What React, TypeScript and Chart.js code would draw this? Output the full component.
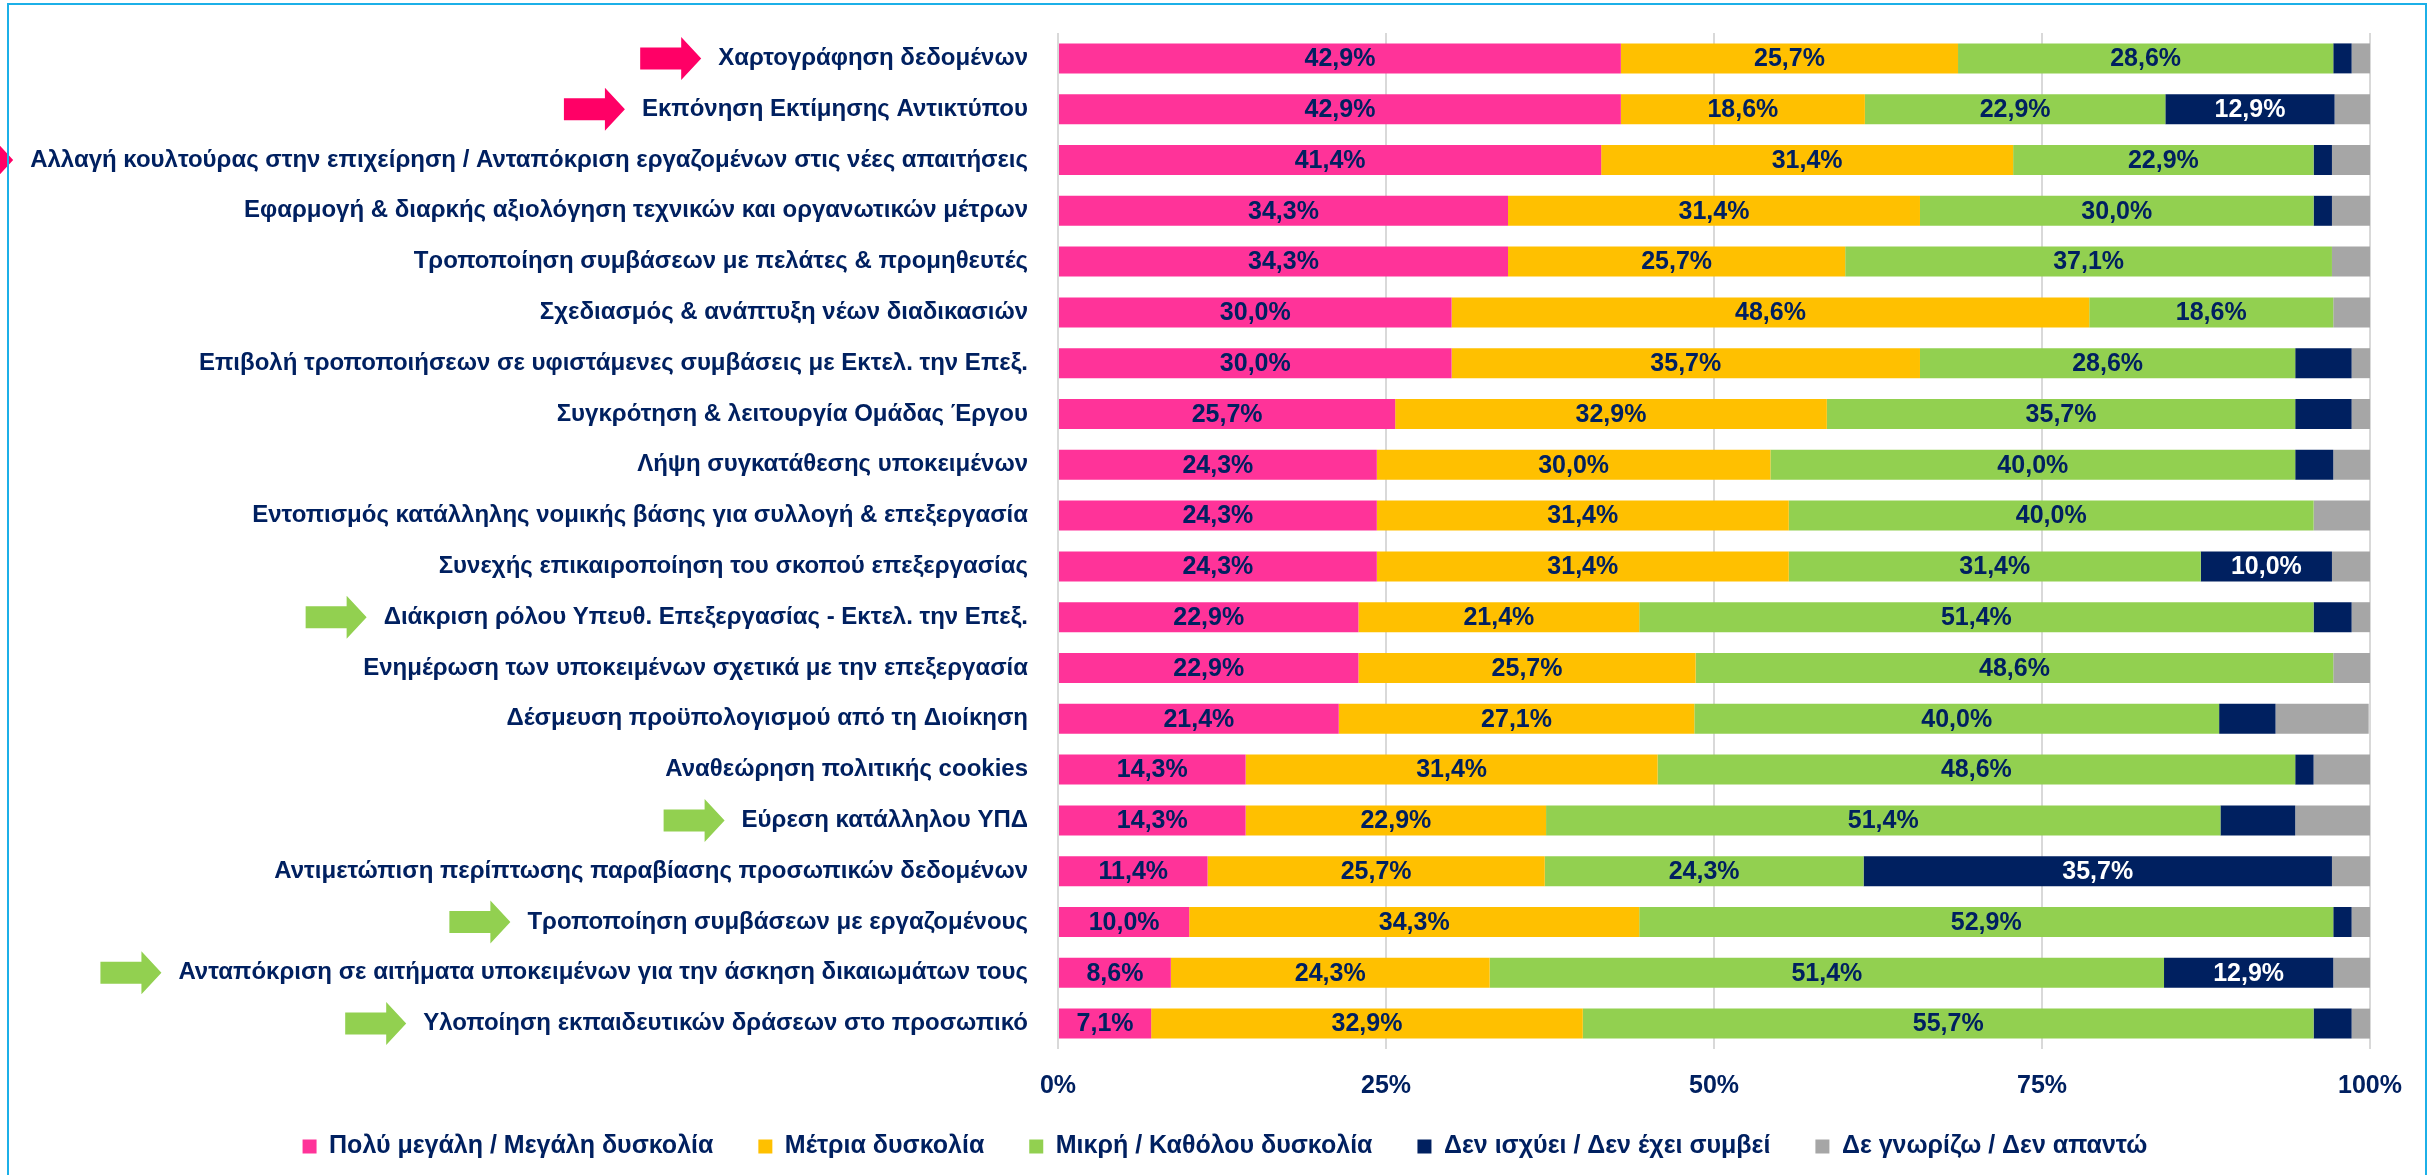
import { useEffect, useRef } from 'react';
import { Chart, registerables } from 'chart.js';

Chart.register(...registerables);

const categories = [
  'Χαρτογράφηση δεδομένων',
  'Εκπόνηση Εκτίμησης Αντικτύπου',
  'Αλλαγή κουλτούρας στην επιχείρηση / Ανταπόκριση εργαζομένων στις νέες απαιτήσεις',
  'Εφαρμογή & διαρκής αξιολόγηση τεχνικών και οργανωτικών μέτρων',
  'Τροποποίηση συμβάσεων με πελάτες & προμηθευτές',
  'Σχεδιασμός & ανάπτυξη νέων διαδικασιών',
  'Επιβολή τροποποιήσεων σε υφιστάμενες συμβάσεις με Εκτελ. την Επεξ.',
  'Συγκρότηση & λειτουργία Ομάδας Έργου',
  'Λήψη συγκατάθεσης υποκειμένων',
  'Εντοπισμός κατάλληλης νομικής βάσης για συλλογή & επεξεργασία',
  'Συνεχής επικαιροποίηση του σκοπού επεξεργασίας',
  'Διάκριση ρόλου Υπευθ. Επεξεργασίας - Εκτελ. την Επεξ.',
  'Ενημέρωση των υποκειμένων σχετικά με την επεξεργασία',
  'Δέσμευση προϋπολογισμού από τη Διοίκηση',
  'Αναθεώρηση πολιτικής cookies',
  'Εύρεση κατάλληλου ΥΠΔ',
  'Αντιμετώπιση περίπτωσης παραβίασης προσωπικών δεδομένων',
  'Τροποποίηση συμβάσεων με εργαζομένους',
  'Ανταπόκριση σε αιτήματα υποκειμένων για την άσκηση δικαιωμάτων τους',
  'Υλοποίηση εκπαιδευτικών δράσεων στο προσωπικό',
];

const seriesNames = [
  'Πολύ μεγάλη / Μεγάλη δυσκολία',
  'Μέτρια δυσκολία',
  'Μικρή / Καθόλου δυσκολία',
  'Δεν ισχύει / Δεν έχει συμβεί',
  'Δε γνωρίζω / Δεν απαντώ',
];

const veryHigh = [42.9, 42.9, 41.4, 34.3, 34.3, 30.0, 30.0, 25.7, 24.3, 24.3, 24.3, 22.9, 22.9, 21.4, 14.3, 14.3, 11.4, 10.0, 8.6, 7.1];
const moderate = [25.7, 18.6, 31.4, 31.4, 25.7, 48.6, 35.7, 32.9, 30.0, 31.4, 31.4, 21.4, 25.7, 27.1, 31.4, 22.9, 25.7, 34.3, 24.3, 32.9];
const low = [28.6, 22.9, 22.9, 30.0, 37.1, 18.6, 28.6, 35.7, 40.0, 40.0, 31.4, 51.4, 48.6, 40.0, 48.6, 51.4, 24.3, 52.9, 51.4, 55.7];
const notApplicable = [1.4, 12.9, 1.4, 1.4, 0, 0, 4.3, 4.3, 2.9, 0, 10.0, 2.9, 0, 4.3, 1.4, 5.7, 35.7, 1.4, 12.9, 2.9];
const dontKnow = [1.4, 2.9, 2.9, 2.9, 2.9, 2.9, 1.4, 1.4, 2.9, 4.3, 2.9, 1.4, 2.9, 7.1, 4.3, 5.7, 2.9, 1.4, 2.9, 1.4];

const xTickValues = [0, 25, 50, 75, 100];

const pinkArrowRows = [0, 1, 2];
const greenArrowRows = [11, 15, 17, 18, 19];

const COLORS = ['#FF3399', '#FFC000', '#92D050', '#002060', '#A6A6A6'];
const TEXT = '#002060';
const FONT = "'Liberation Sans', Arial, sans-serif";
const Y_TICK_GAP = 30;
const Y_FONT_SIZE = 24;
const VALUE_FONT_SIZE = 25;
const LEGEND_SHIFT_UP = 12;
const LEGEND_SHIFT_RIGHT = 80;

const fmt = (v: number) => v.toFixed(1).replace('.', ',') + '%';

const valueLabels = {
  id: 'valueLabels',
  afterDatasetsDraw(chart: any) {
    const { ctx } = chart;
    ctx.save();
    ctx.font = `bold ${VALUE_FONT_SIZE}px ${FONT}`;
    ctx.textAlign = 'center';
    ctx.textBaseline = 'middle';
    chart.data.datasets.forEach((ds: any, di: number) => {
      if (di === 4) return;
      const meta = chart.getDatasetMeta(di);
      meta.data.forEach((el: any, i: number) => {
        const v = ds.data[i];
        if (!v || v < 7) return;
        const { x, base, y } = el.getProps(['x', 'base', 'y'], true);
        ctx.fillStyle = di === 3 ? '#FFFFFF' : TEXT;
        ctx.fillText(fmt(v), (x + base) / 2, y + 1);
      });
    });
    ctx.restore();
  },
};

const decorations = {
  id: 'decorations',
  afterLayout(chart: any) {
    const lg = chart.legend;
    if (lg) {
      lg.left += LEGEND_SHIFT_RIGHT;
      lg.top -= LEGEND_SHIFT_UP;
      lg.bottom -= LEGEND_SHIFT_UP;
    }
  },
  afterDraw(chart: any) {
    const { ctx, chartArea, scales } = chart;
    const yScale = scales.y;
    ctx.save();
    ctx.font = `bold ${Y_FONT_SIZE}px ${FONT}`;
    const drawArrow = (idx: number, color: string) => {
      const label = categories[idx];
      const w = ctx.measureText(label).width;
      const tip = chartArea.left - Y_TICK_GAP - w - 17;
      const cy = yScale.getPixelForValue(idx);
      const len = 61, headLen = 20, bodyH = 22, headH = 43;
      ctx.fillStyle = color;
      ctx.beginPath();
      ctx.moveTo(tip - len, cy - bodyH / 2);
      ctx.lineTo(tip - headLen, cy - bodyH / 2);
      ctx.lineTo(tip - headLen, cy - headH / 2);
      ctx.lineTo(tip, cy);
      ctx.lineTo(tip - headLen, cy + headH / 2);
      ctx.lineTo(tip - headLen, cy + bodyH / 2);
      ctx.lineTo(tip - len, cy + bodyH / 2);
      ctx.closePath();
      ctx.fill();
    };
    pinkArrowRows.forEach((r) => drawArrow(r, '#FF0066'));
    greenArrowRows.forEach((r) => drawArrow(r, '#92D050'));
    ctx.strokeStyle = '#1CB0E8';
    ctx.lineWidth = 2;
    ctx.strokeRect(8, 4, chart.width - 15, chart.height - 3);
    ctx.restore();
  },
};

export default function App() {
  const ref = useRef<HTMLCanvasElement | null>(null);
  useEffect(() => {
    document.body.style.margin = '0';
    const canvas = ref.current;
    if (!canvas) return;
    const datasets = [veryHigh, moderate, low, notApplicable, dontKnow].map((d, i) => ({
      label: seriesNames[i],
      data: d,
      backgroundColor: COLORS[i],
      borderWidth: 0,
      categoryPercentage: 1,
      barPercentage: 0.59,
    }));
    const chart = new Chart(canvas, {
      type: 'bar',
      data: { labels: categories, datasets },
      options: {
        indexAxis: 'y',
        animation: false,
        responsive: false,
        devicePixelRatio: 1,
        layout: { padding: { top: 33, right: 63, bottom: 0, left: 0 } },
        scales: {
          x: {
            stacked: true,
            min: 0,
            max: 100,
            afterBuildTicks: (scale: any) => {
              scale.ticks = xTickValues.map((v) => ({ value: v }));
            },
            afterFit: (scale: any) => {
              scale.height = 52;
            },
            grid: { color: '#D9D9D9', lineWidth: 2, drawTicks: false },
            border: { display: false },
            ticks: {
              padding: 25,
              color: TEXT,
              font: { size: VALUE_FONT_SIZE, weight: 'bold', family: FONT, lineHeight: 1 },
              callback: (v: any) => `${v}%`,
              maxRotation: 0,
            },
          },
          y: {
            stacked: true,
            afterFit: (scale: any) => {
              scale.width = 1058;
            },
            grid: {
              display: true,
              drawOnChartArea: false,
              drawTicks: true,
              tickLength: Y_TICK_GAP,
              tickColor: 'rgba(0,0,0,0)',
            },
            border: { display: false },
            ticks: {
              padding: 0,
              color: TEXT,
              autoSkip: false,
              font: { size: Y_FONT_SIZE, weight: 'bold', family: FONT },
            },
          },
        },
        plugins: {
          legend: {
            position: 'bottom',
            maxHeight: 74,
            labels: {
              boxWidth: 14,
              boxHeight: 14,
              padding: 45,
              color: TEXT,
              font: { size: VALUE_FONT_SIZE, weight: 'bold', family: FONT },
            },
          },
          tooltip: { enabled: false },
        },
      },
      plugins: [valueLabels, decorations],
    } as any);
    return () => chart.destroy();
  }, []);
  return (
    <div style={{ width: 2433, height: 1175, background: '#FFFFFF' }}>
      <canvas ref={ref} width={2433} height={1175} />
    </div>
  );
}
